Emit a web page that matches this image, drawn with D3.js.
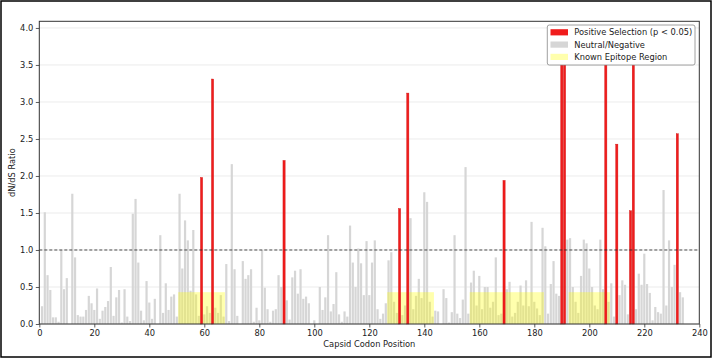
<!DOCTYPE html>
<html>
<head>
<meta charset="utf-8">
<script src="https://cdn.jsdelivr.net/npm/d3@7"></script>
<style>
  html, body { margin: 0; padding: 0; background: #fff; }
  svg { display: block; }
  text { font-family: "DejaVu Sans", sans-serif; }
</style>
</head>
<body>
<svg id="chart" width="715" height="359"></svg>
<script>
// ---------------- DATA ----------------
const dndsValues = [
  0.24, 1.51, 0.66, 0.46, 0.09, 0.09, 0.03, 1.00, 0.47, 0.62,
  0.00, 1.76, 0.90, 0.12, 0.10, 0.10, 0.19, 0.38, 0.28, 0.19,
  0.48, 0.07, 0.18, 0.23, 0.31, 0.77, 0.11, 0.36, 0.46, 0.02,
  0.47, 0.10, 0.04, 1.49, 1.69, 0.83, 0.18, 0.05, 0.58, 0.29,
  0.07, 0.34, 0.00, 1.20, 0.15, 0.55, 0.19, 0.37, 0.40, 0.10,
  1.76, 0.75, 1.40, 1.13, 0.45, 1.27, 0.40, 0.11, 1.98, 0.13,
  0.24, 0.15, 3.31, 0.22, 0.15, 0.39, 0.10, 0.81, 0.04, 2.16,
  0.74, 0.11, 0.00, 0.85, 0.61, 0.66, 0.74, 0.03, 0.22, 0.05,
  1.00, 0.49, 0.20, 0.03, 0.18, 0.20, 0.66, 0.50, 2.21, 0.32,
  0.06, 0.63, 0.72, 0.41, 0.74, 0.34, 0.37, 0.28, 0.00, 0.05,
  0.00, 0.50, 0.19, 0.36, 1.20, 0.17, 0.27, 0.70, 0.13, 0.03,
  0.17, 0.10, 1.33, 0.83, 0.50, 1.02, 0.82, 0.39, 1.12, 0.39,
  0.83, 1.13, 0.20, 0.07, 0.14, 0.28, 0.86, 0.97, 0.30, 0.15,
  1.56, 0.12, 0.25, 3.12, 1.43, 0.20, 0.38, 0.61, 0.35, 1.78,
  1.65, 0.30, 0.10, 0.18, 0.17, 0.00, 0.47, 0.35, 0.02, 0.16,
  1.20, 0.14, 0.08, 0.33, 2.12, 0.14, 0.56, 0.72, 0.25, 0.65,
  0.20, 0.50, 0.50, 0.22, 0.30, 0.90, 0.12, 0.14, 1.94, 0.47,
  0.57, 0.10, 0.15, 0.30, 0.52, 0.25, 0.59, 0.24, 1.38, 0.30,
  0.21, 0.12, 1.30, 1.05, 0.14, 0.54, 0.85, 0.41, 0.38, 3.90,
  3.85, 1.14, 1.16, 0.50, 0.30, 0.15, 0.65, 1.14, 1.09, 0.75,
  0.50, 0.25, 0.20, 1.14, 0.47, 3.75, 0.30, 0.55, 0.10, 2.43,
  0.39, 0.59, 0.53, 0.13, 1.53, 3.80, 0.20, 0.68, 0.53, 0.95,
  0.54, 0.42, 0.05, 0.23, 0.16, 0.14, 1.81, 0.25, 1.13, 0.50,
  0.80, 2.57, 0.43, 0.36
];
const positions = dndsValues.map((d, i) => i + 1);
const positiveSites = [59, 63, 89, 131, 134, 169, 190, 191, 206, 210, 215, 216, 232];
const epitopeStarts = [50.5, 126.5, 156.5, 192.5];
const epitopeEnds   = [67.5, 143.5, 183.5, 207.5];
const epitopeHeight = 0.43;
const neutralLine = 1.0;
const xTicks = [0, 20, 40, 60, 80, 100, 120, 140, 160, 180, 200, 220, 240];
const yTicks = [0.0, 0.5, 1.0, 1.5, 2.0, 2.5, 3.0, 3.5, 4.0];
const legendLabels = ["Positive Selection (p < 0.05)", "Neutral/Negative", "Known Epitope Region"];

// ---------------- LAYOUT ----------------
const svg = d3.select("#chart");
const L = 39.3, R = 699.3, T = 21.3, B = 324;
const x = d3.scaleLinear().domain([0, 240]).range([L, R]);
const y = d3.scaleLinear().domain([0, 4.09]).range([B, T]);
const barW = 0.8;
const fontSize = 8.3;

// Figure frame
svg.append("rect").attr("x", 1).attr("y", 1).attr("width", 710).attr("height", 356)
  .attr("fill", "#fff").attr("stroke", "#000").attr("stroke-width", 1.5);

// Grid
svg.append("g").selectAll("line").data(yTicks).join("line")
  .attr("x1", L).attr("x2", R)
  .attr("y1", d => y(d)).attr("y2", d => y(d))
  .attr("stroke", "#e6e6e6").attr("stroke-width", 0.8);

const data = positions.map((p, i) => ({ pos: p, v: dndsValues[i], sel: positiveSites.includes(p) }));

// Gray bars
svg.append("g").selectAll("rect").data(data.filter(d => !d.sel)).join("rect")
  .attr("x", d => x(d.pos - barW / 2))
  .attr("width", d => x(barW) - x(0))
  .attr("y", d => y(d.v))
  .attr("height", d => y(0) - y(d.v))
  .attr("fill", "#d6d6d6");

// Epitope regions
svg.append("g").selectAll("rect").data(epitopeStarts.map((s, i) => [s, epitopeEnds[i]])).join("rect")
  .attr("x", d => x(d[0]))
  .attr("width", d => x(d[1]) - x(d[0]))
  .attr("y", y(epitopeHeight))
  .attr("height", y(0) - y(epitopeHeight))
  .attr("fill", "#ffff00").attr("fill-opacity", 0.32);

// Red bars
svg.append("g").selectAll("rect").data(data.filter(d => d.sel)).join("rect")
  .attr("x", d => x(d.pos - barW / 2))
  .attr("width", d => x(barW) - x(0))
  .attr("y", d => y(d.v))
  .attr("height", d => y(0) - y(d.v))
  .attr("fill", "#f01c1c").attr("stroke", "#d01010").attr("stroke-width", 0.4);

// Dashed neutral line
svg.append("line")
  .attr("x1", L).attr("x2", R).attr("y1", y(neutralLine)).attr("y2", y(neutralLine))
  .attr("stroke", "#222").attr("stroke-width", 0.8).attr("stroke-dasharray", "3,2");

// Axes
const xAxis = d3.axisBottom(x).tickValues(xTicks).tickFormat(d3.format("d")).tickSize(3.5).tickPadding(2.5);
const yAxis = d3.axisLeft(y).tickValues(yTicks).tickFormat(d3.format(".1f")).tickSize(3.5).tickPadding(2.5);
const gx = svg.append("g").attr("transform", `translate(0,${B})`).call(xAxis);
const gy = svg.append("g").attr("transform", `translate(${L},0)`).call(yAxis);
[gx, gy].forEach(g => {
  g.select(".domain").remove();
  g.selectAll(".tick line").attr("stroke", "#333").attr("stroke-width", 0.8);
  g.selectAll(".tick text").attr("fill", "#222").style("font-size", fontSize + "px")
    .style("font-family", "'DejaVu Sans', sans-serif");
});

// Spines
svg.append("rect").attr("x", L).attr("y", T).attr("width", R - L).attr("height", B - T)
  .attr("fill", "none").attr("stroke", "#333").attr("stroke-width", 1);

// Axis labels
svg.append("text").attr("x", (L + R) / 2).attr("y", 346.5)
  .attr("text-anchor", "middle").attr("fill", "#222").style("font-size", fontSize + "px")
  .text("Capsid Codon Position");
svg.append("text").attr("transform", `translate(15,${(T + B) / 2}) rotate(-90)`)
  .attr("text-anchor", "middle").attr("fill", "#222").style("font-size", fontSize + "px")
  .text("dN/dS Ratio");

// Legend
const lg = svg.append("g");
lg.append("rect").attr("x", 547.3).attr("y", 25).attr("width", 147.7).attr("height", 40)
  .attr("rx", 2).attr("fill", "#fff").attr("fill-opacity", 1)
  .attr("stroke", "#888").attr("stroke-width", 0.8);
const legendFills = [["#f01c1c", 1], ["#d6d6d6", 1], ["#ffff00", 0.32]];
legendLabels.forEach((lab, i) => {
  const cy = 32.3 + i * 12.3;
  lg.append("rect").attr("x", 550.5).attr("y", cy - 3.1).attr("width", 17.5).attr("height", 6.2)
    .attr("fill", legendFills[i][0]).attr("fill-opacity", legendFills[i][1]);
  lg.append("text").attr("x", 574.3).attr("y", cy + 3).attr("fill", "#222")
    .style("font-size", fontSize + "px").text(lab);
});
</script>
</body>
</html>
